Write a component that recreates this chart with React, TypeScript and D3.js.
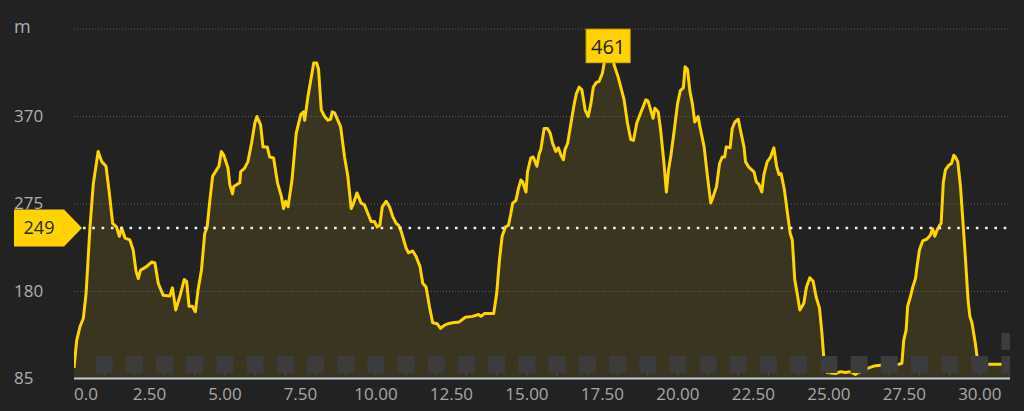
import React from "react";
import * as d3 from "d3";

const distanceKm = [
  0, 0.09, 0.2, 0.31, 0.4, 0.53, 0.64, 0.8, 0.92, 1.06, 1.17, 1.28, 1.41, 1.5, 1.58, 1.69, 1.85, 1.96,
  2.05, 2.13, 2.2, 2.4, 2.57, 2.68, 2.79, 2.95, 3.17, 3.26, 3.37, 3.5, 3.65, 3.73, 3.81, 3.92, 4.02,
  4.11, 4.22, 4.33, 4.41, 4.5, 4.59, 4.72, 4.8, 4.88, 4.96, 5.1, 5.16, 5.25, 5.29, 5.49, 5.52, 5.65,
  5.76, 5.88, 5.99, 6.06, 6.18, 6.26, 6.4, 6.48, 6.61, 6.74, 6.87, 6.94, 7.01, 7.09, 7.22, 7.36, 7.51,
  7.6, 7.64, 7.75, 7.86, 7.94, 8.04, 8.1, 8.19, 8.3, 8.41, 8.5, 8.55, 8.63, 8.83, 8.96, 9.07, 9.18,
  9.26, 9.37, 9.51, 9.62, 9.73, 9.84, 9.95, 10.04, 10.13, 10.21, 10.34, 10.45, 10.56, 10.67, 10.75,
  10.84, 11.0, 11.08, 11.22, 11.33, 11.46, 11.55, 11.66, 11.77, 11.88, 12.03, 12.14, 12.25, 12.38,
  12.54, 12.76, 12.96, 13.2, 13.4, 13.48, 13.59, 13.76, 13.9, 14.0, 14.09, 14.18, 14.29, 14.39, 14.47,
  14.53, 14.64, 14.72, 14.8, 14.86, 14.97, 15.02, 15.13, 15.21, 15.33, 15.41, 15.46, 15.57, 15.68,
  15.77, 15.85, 15.96, 16.04, 16.13, 16.21, 16.26, 16.35, 16.46, 16.57, 16.64, 16.73, 16.82, 16.93,
  17.03, 17.12, 17.2, 17.3, 17.39, 17.5, 17.56, 17.62, 17.69, 17.78, 17.89, 18.02, 18.11, 18.22, 18.33,
  18.44, 18.53, 18.64, 18.77, 18.94, 19.01, 19.1, 19.18, 19.24, 19.35, 19.43, 19.54, 19.62, 19.69,
  19.77, 19.88, 19.99, 20.08, 20.18, 20.24, 20.32, 20.4, 20.48, 20.56, 20.67, 20.73, 20.87, 20.98,
  21.09, 21.17, 21.28, 21.38, 21.47, 21.55, 21.6, 21.73, 21.8, 21.89, 22.0, 22.08, 22.19, 22.24, 22.35,
  22.52, 22.6, 22.69, 22.78, 22.85, 22.96, 23.07, 23.18, 23.27, 23.35, 23.42, 23.53, 23.63, 23.72,
  23.79, 23.87, 23.95, 24.04, 24.17, 24.26, 24.37, 24.48, 24.58, 24.69, 24.77, 24.83, 24.95, 25.22,
  25.39, 25.55, 25.72, 25.88, 25.99, 26.32, 26.49, 26.71, 27.31, 27.42, 27.48, 27.56, 27.61, 27.7,
  27.78, 27.87, 27.92, 28.0, 28.11, 28.25, 28.36, 28.44, 28.51, 28.59, 28.67, 28.72, 28.79, 28.86,
  28.97, 29.06, 29.14, 29.19, 29.27, 29.36, 29.43, 29.52, 29.61, 29.67, 29.74, 29.85, 29.91, 30.1,
  30.35, 30.68, 31.0,
];

const elevationM = [
  97, 127, 142, 151, 178, 250, 297, 332, 321, 316, 287, 254, 250, 240, 249, 238, 236, 225,
  203, 194, 203, 207, 212, 211, 189, 176, 175, 184, 160, 174, 193, 191, 164, 164, 158,
  182, 203, 243, 250, 279, 305, 312, 316, 332, 328, 314, 296, 286, 294, 298, 310, 314,
  321, 341, 363, 370, 361, 337, 337, 326, 325, 298, 283, 270, 278, 272, 301, 352, 372,
  375, 366, 392, 413, 428, 428, 421, 377, 370, 366, 367, 375, 374, 359, 326, 305, 270,
  276, 287, 276, 274, 265, 256, 256, 250, 252, 272, 278, 272, 261, 254, 252,
  245, 227, 222, 224, 218, 207, 189, 185, 164, 146, 145, 140, 143, 145,
  146, 147, 152, 153, 155, 153, 156, 156, 156, 178, 214, 240, 250, 252, 265,
  276, 279, 292, 301, 299, 288, 310, 325, 326, 316, 330, 334, 357, 357,
  352, 341, 332, 336, 328, 323, 334, 341, 363, 384, 395, 402, 399, 377,
  370, 384, 402, 407, 408, 417, 428, 446, 461, 447, 426, 413, 402, 388, 363,
  345, 344, 363, 374, 388, 387, 377, 368, 379, 375, 355, 319, 288, 312,
  328, 355, 384, 398, 401, 424, 421, 397, 384, 364, 370, 359, 337, 305,
  276, 283, 294, 319, 326, 326, 337, 336, 357, 364, 367, 354, 337, 321, 315,
  310, 299, 296, 288, 307, 321, 326, 336, 316, 307, 308, 290, 265, 243,
  236, 193, 178, 160, 167, 185, 195, 191, 174, 162, 135, 109, 92, 91,
  93, 92, 93, 90, 92, 97, 99, 100, 101, 102, 127, 138, 164, 174,
  185, 194, 207, 225, 235, 237, 241, 248, 240, 247, 252, 254, 298, 312,
  317, 319, 328, 326, 321, 294, 261, 218, 171, 153, 146, 124, 109, 101,
  101, 101, 101,
];

const yTickValues = [85, 180, 275, 370];
const yTopValue = 465;
const yUnitLabel = "m";
const xTickValues = [0, 2.5, 5, 7.5, 10, 12.5, 15, 17.5, 20, 22.5, 25, 27.5, 30];
const xTickLabels = ["0.0", "2.50", "5.00", "7.50", "10.00", "12.50", "15.00", "17.50", "20.00", "22.50", "25.00", "27.50", "30.00"];
const kmMarkers = d3.range(1, 32);
const referenceValue = 249;
const maxValue = 461;

const W = 1024;
const H = 411;
const FONT = "'Open Sans', 'Noto Sans', sans-serif";

export default function App() {
  const x = d3.scaleLinear().domain([0, 31]).range([74, 1010]);
  const y = d3.scaleLinear().domain([85, yTopValue]).range([379, 29]);

  const pts = distanceKm.map((d, i) => [d, elevationM[i]] as [number, number]);
  const line = d3.line<[number, number]>().x((p) => x(p[0])).y((p) => y(p[1]));
  const area = d3
    .area<[number, number]>()
    .x((p) => x(p[0]))
    .y0(y(85))
    .y1((p) => y(p[1]));

  const maxIdx = elevationM.indexOf(maxValue);
  const peakX = x(distanceKm[maxIdx]);
  const peakY = y(maxValue);
  const refY = y(referenceValue);

  return (
    <svg
      width={W}
      height={H}
      style={{ position: "absolute", left: 0, top: 0, display: "block" }}
      fontFamily={FONT}
    >
      <rect x={0} y={0} width={W} height={H} fill="#222222" />
      <defs>
        <clipPath id="plotClip">
          <rect x={74} y={0} width={936} height={380} />
        </clipPath>
      </defs>

      <g clipPath="url(#plotClip)">
        <path d={area(pts) || ""} fill="#3a3520" />
      </g>

      {[...yTickValues.slice(1), yTopValue].map((v) => (
        <line
          key={"g" + v}
          x1={74}
          x2={1010}
          y1={y(v)}
          y2={y(v)}
          stroke="#5e5e5e"
          strokeWidth={1}
          strokeDasharray="1,2"
        />
      ))}

      <g clipPath="url(#plotClip)">
        <path d={line(pts) || ""} fill="none" stroke="#ffd500" strokeWidth={3} strokeLinejoin="round" />
        {kmMarkers.map((k) => (
          <g key={"k" + k}>
            <rect x={x(k) - 8.5} y={356} width={17} height={17} fill="#3c3c3c" />
            <line x1={x(k)} x2={x(k)} y1={373} y2={376} stroke="#4a4a4a" strokeWidth={1} />
          </g>
        ))}
        <rect x={x(31) - 8.5} y={333} width={17} height={17} fill="#3c3c3c" />
      </g>

      <line x1={74} x2={1010} y1={378.5} y2={378.5} stroke="#c0ccd4" strokeWidth={2} />

      {yTickValues.map((v) => (
        <text key={"y" + v} x={14} y={y(v) + 5} fill="#b0b0b0" fontSize={17}>
          {v}
        </text>
      ))}
      <text x={14} y={33} fill="#b0b0b0" fontSize={18}>
        {yUnitLabel}
      </text>

      {xTickValues.map((v, i) => (
        <text
          key={"x" + v}
          x={x(v)}
          y={400}
          fill="#a8a8a8"
          fontSize={17}
          textAnchor={i === 0 ? "start" : "middle"}
        >
          {xTickLabels[i]}
        </text>
      ))}

      <line
        x1={83}
        x2={1010}
        y1={refY}
        y2={refY}
        stroke="#eeeeee"
        strokeWidth={2.6}
        strokeDasharray="2.6,6.7"
      />
      <path
        d={`M14,${refY - 18.5} L64,${refY - 18.5} L82,${refY} L64,${refY + 18.5} L14,${refY + 18.5} Z`}
        fill="#ffd200"
      />
      <text x={39} y={refY + 6.5} fill="#2a2a2a" fontSize={18} textAnchor="middle">
        {referenceValue}
      </text>

      <rect x={peakX - 22} y={peakY - 3.5} width={44} height={33.5} fill="#ffd200" stroke="#d9b300" strokeWidth={1} />
      <text x={peakX} y={peakY + 21} fill="#1e1e1e" fontSize={20} textAnchor="middle">
        {maxValue}
      </text>
    </svg>
  );
}
